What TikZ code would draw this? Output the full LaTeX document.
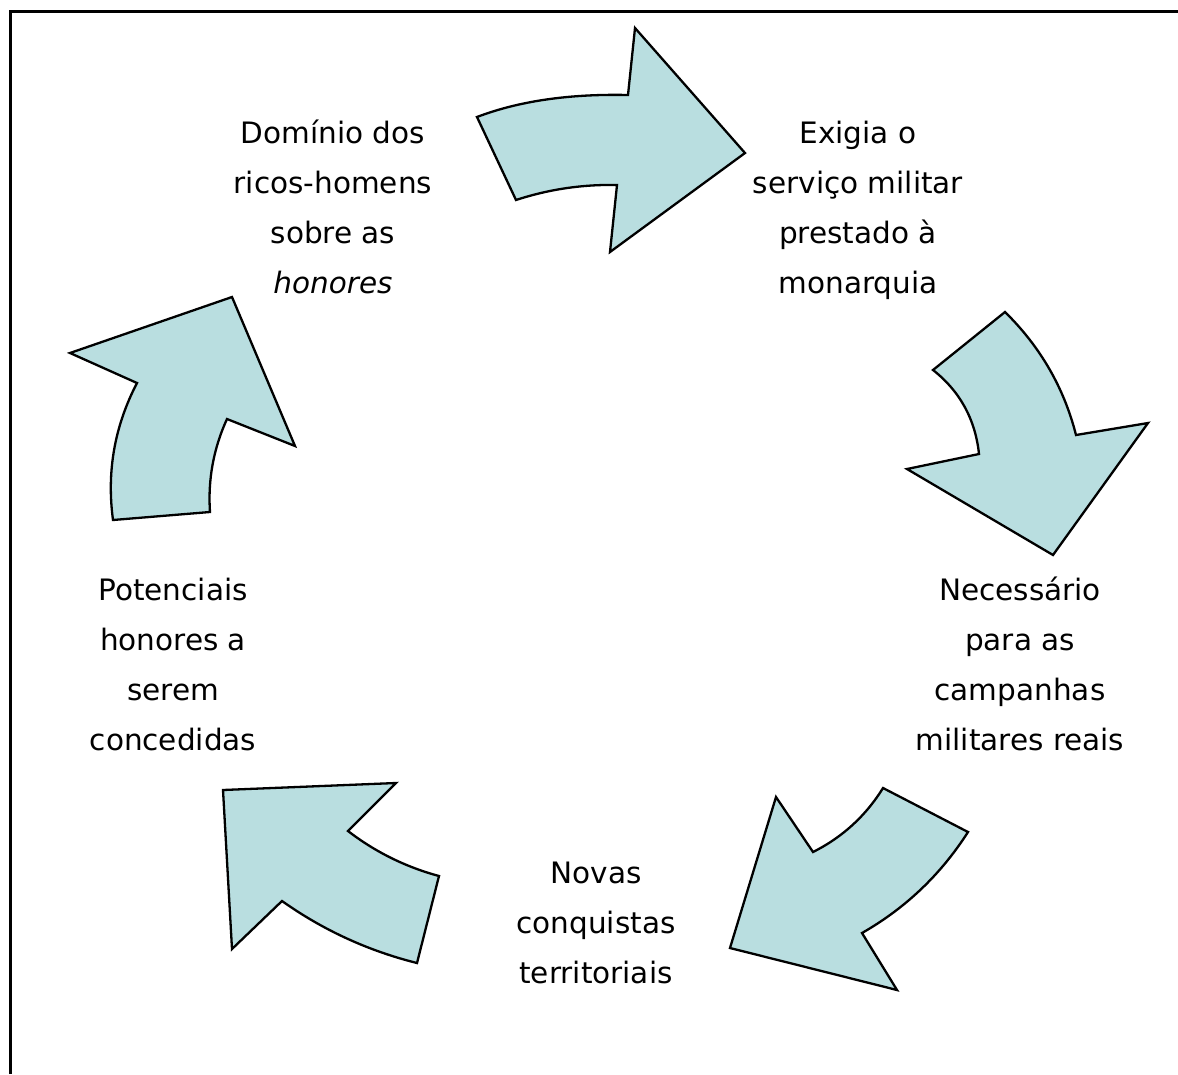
\documentclass[tikz,border=0pt]{standalone}
\usepackage{fontspec}
\setmainfont{DejaVu Sans}
\definecolor{arrowfill}{RGB}{185,222,224}
\tikzset{
  cyclearrow/.style={draw=black, line width=2.3pt, fill=arrowfill, line join=miter},
  label/.style={anchor=north, align=center, inner sep=0pt, text=black,
    font=\fontsize{29.5}{50}\selectfont},
  frame/.style={line width=3.5pt, draw=black}
}
\begin{document}
\begin{tikzpicture}[x=1pt, y=-1pt]
\useasboundingbox (0,0) rectangle (1178,1074);
% frame (left and top edges)
\draw[frame] (10.5,1074) -- (10.5,11.5) -- (1178,11.5);

% arrow 1 (top)
\draw[cyclearrow] (477,117) .. controls (519,101) and (569.3,93.7) .. (628,95)
  -- (635,28) -- (745,153) -- (610,252) -- (617,185)
  .. controls (582.3,184.3) and (548.7,189.3) .. (516,200) -- cycle;

% arrow 2 (right)
\draw[cyclearrow] (1005,312) .. controls (1040.3,346.7) and (1064,387.7) .. (1076,435)
  -- (1148,423) -- (1053,555) -- (907,469) -- (979,454)
  .. controls (975.3,419.3) and (960,391.3) .. (933,370) -- cycle;

% arrow 3 (bottom right)
\draw[cyclearrow] (883,788) -- (968,832)
  .. controls (940.7,874.7) and (905.3,908.3) .. (862,933)
  -- (897,990) -- (730,948) -- (776,797) -- (813,852)
  .. controls (842.3,837.3) and (865.7,816) .. (883,788) -- cycle;

% arrow 4 (bottom left)
\draw[cyclearrow] (223,790) -- (396,783) -- (348,831)
  .. controls (375.3,852) and (405.7,867) .. (439,876)
  -- (417,963)
  .. controls (368.1,950.8) and (323.1,930.1) .. (282,901)
  -- (232,949) -- cycle;

% arrow 5 (left)
\draw[cyclearrow] (70,353) -- (232,297) -- (295,446) -- (227,419)
  .. controls (213.5,448.5) and (207.8,479.5) .. (210,512)
  -- (113,520)
  .. controls (106.5,471.9) and (114.5,426.2) .. (137,383) -- cycle;

% texts
\node[label] (dominio) at (333,108)
  {\strut Domínio dos\\\strut ricos-homens\\\strut sobre as\\\strut \textit{honores}};
\node[label] (exigia) at (858,108)
  {\strut Exigia o\\\strut serviço militar\\\strut prestado à\\\strut monarquia};
\node[label] (necessario) at (1020,565.5)
  {\strut Necessário\\\strut para as\\\strut campanhas\\\strut militares reais};
\node[label] (novas) at (596,848.5)
  {\strut Novas\\\strut conquistas\\\strut territoriais};
\node[label] (potenciais) at (173,565.5)
  {\strut Potenciais\\\strut honores a\\\strut serem\\\strut concedidas};
\end{tikzpicture}
\end{document}
